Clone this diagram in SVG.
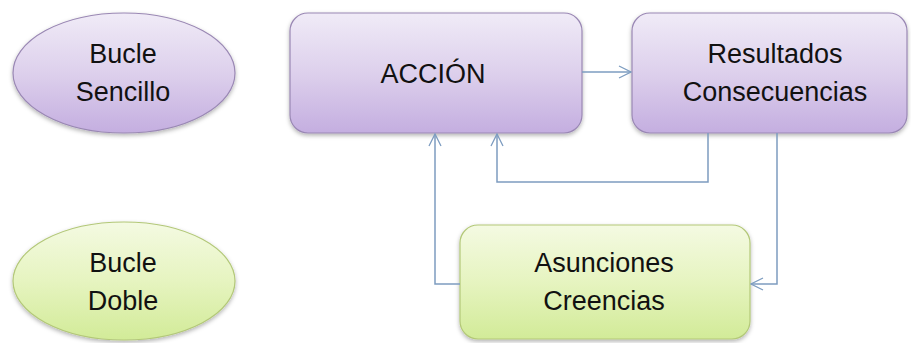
<svg xmlns="http://www.w3.org/2000/svg" width="911" height="343" viewBox="0 0 911 343">
<defs>
<linearGradient id="gp" x1="0" y1="0" x2="0" y2="1">
<stop offset="0" stop-color="#f0ebf7"/>
<stop offset="0.5" stop-color="#ddd0ec"/>
<stop offset="1" stop-color="#c4aee0"/>
</linearGradient>
<linearGradient id="gg" x1="0" y1="0" x2="0" y2="1">
<stop offset="0" stop-color="#f4fae2"/>
<stop offset="0.5" stop-color="#e6f4c0"/>
<stop offset="1" stop-color="#d2eb98"/>
</linearGradient>
<filter id="sh" x="-10%" y="-10%" width="120%" height="130%">
<feDropShadow dx="0" dy="2" stdDeviation="2" flood-color="#000" flood-opacity="0.3"/>
</filter>
<marker id="ah" viewBox="0 0 14 14" refX="13" refY="7" markerWidth="14" markerHeight="14" markerUnits="userSpaceOnUse" orient="auto">
<path d="M1,1 L13,7 L1,13" fill="none" stroke="#7d9cc0" stroke-width="1.3"/>
</marker>
</defs>
<style>
.p{fill:url(#gp);stroke:#9a88b4;stroke-width:1.2;filter:url(#sh)}
.g{fill:url(#gg);stroke:#b3c878;stroke-width:1.2;filter:url(#sh)}
text{font-family:"Liberation Sans",Arial,sans-serif;font-size:27px;fill:#111;text-anchor:middle}
.c{fill:none;stroke:#7d9cc0;stroke-width:1.5;marker-end:url(#ah)}
</style>
<rect width="911" height="343" fill="#fff"/>
<g id="bucle-sencillo">
<ellipse class="p" cx="124" cy="73" rx="111" ry="60"/>
<text x="123" y="63">Bucle</text>
<text x="123" y="101">Sencillo</text>
</g>
<g id="bucle-doble">
<ellipse class="g" cx="124" cy="281" rx="111" ry="59"/>
<text x="123" y="272">Bucle</text>
<text x="123" y="310">Doble</text>
</g>
<g id="accion">
<rect class="p" x="290" y="13" width="292" height="120" rx="18"/>
<text x="433" y="83">ACCIÓN</text>
</g>
<g id="resultados">
<rect class="p" x="632" y="13" width="275" height="120" rx="18"/>
<text x="775" y="63">Resultados</text>
<text x="775" y="101">Consecuencias</text>
</g>
<g id="asunciones">
<rect class="g" x="460" y="225" width="290" height="114" rx="18"/>
<text x="604" y="272">Asunciones</text>
<text x="604" y="310">Creencias</text>
</g>
<g id="connectors">
<path class="c" d="M582,72 H631"/>
<path class="c" d="M708,133 V182 H497 V134"/>
<path class="c" d="M777,133 V284 H751"/>
<path class="c" d="M460,284 H435 V134"/>
</g>
</svg>
